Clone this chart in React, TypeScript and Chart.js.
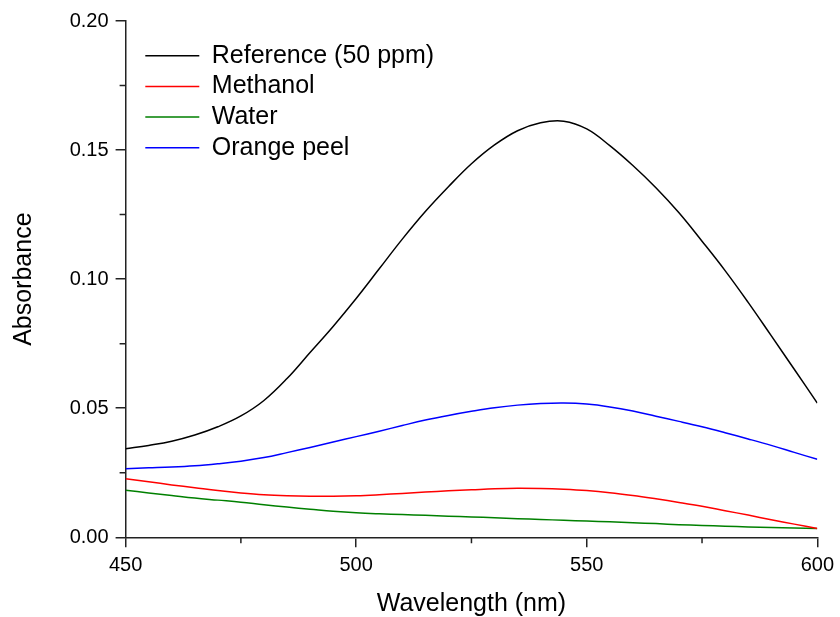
import React, { useEffect, useRef } from "react";
import { Chart, registerables } from "chart.js";

Chart.register(...registerables);

const wavelengths = [
  450, 455, 460, 465, 470, 475, 480, 485, 490, 495, 500, 505, 510, 515, 520, 525,
  530, 535, 540, 545, 550, 555, 560, 565, 570, 575, 580, 585, 590, 595, 600,
];

const reference50 = [
  0.0343, 0.0356, 0.0372, 0.0396, 0.0428, 0.047, 0.053, 0.0615, 0.0716, 0.0817,
  0.0925, 0.104, 0.1155, 0.1262, 0.1358, 0.1447, 0.152, 0.1575, 0.1606, 0.1612,
  0.1582, 0.1517, 0.144, 0.1354, 0.1257, 0.1147, 0.1033, 0.091, 0.0781, 0.0651, 0.052,
];

const methanol = [
  0.0227, 0.0215, 0.0203, 0.0192, 0.0181, 0.0172, 0.0165, 0.0161, 0.0159, 0.0159,
  0.0161, 0.0165, 0.017, 0.0175, 0.018, 0.0184, 0.0188, 0.019, 0.0189, 0.0186,
  0.0181, 0.0173, 0.0162, 0.0149, 0.0135, 0.012, 0.0103, 0.0086, 0.0068, 0.0051, 0.0034,
];

const water = [
  0.0182, 0.0172, 0.0162, 0.0152, 0.0144, 0.0136, 0.0126, 0.0117, 0.0109, 0.0101,
  0.0095, 0.0091, 0.0088, 0.0085, 0.0082, 0.0079, 0.0076, 0.0072, 0.0069, 0.0066,
  0.0063, 0.006, 0.0056, 0.0053, 0.0049, 0.0046, 0.0043, 0.004, 0.0038, 0.0036, 0.0034,
];

const orangePeel = [
  0.0266, 0.0269, 0.0272, 0.0277, 0.0285, 0.0295, 0.0309, 0.0328, 0.0348, 0.0369,
  0.039, 0.0411, 0.0433, 0.0454, 0.0472, 0.0488, 0.0502, 0.0512, 0.0518, 0.052,
  0.0516, 0.0505, 0.0489, 0.0469, 0.0449, 0.0428, 0.0405, 0.0381, 0.0356, 0.0329, 0.0302,
];

const seriesLabels = ["Reference (50 ppm)", "Methanol", "Water", "Orange peel"];
const seriesColors = ["#000000", "#ff0000", "#008000", "#0000ff"];
const yMinorTicks = [0.025, 0.075, 0.125, 0.175];
const xMinorTicks = [475, 525, 575];

const FONT = "'Liberation Sans', Arial, sans-serif";
const AXIS_COLOR = "#222";

const minorTicksPlugin = {
  id: "minorTicks",
  afterDraw(chart: any) {
    const { ctx, scales } = chart;
    const xs = scales.x;
    const ys = scales.y;
    ctx.save();
    ctx.strokeStyle = AXIS_COLOR;
    ctx.lineWidth = 1.5;
    ctx.beginPath();
    for (const v of yMinorTicks) {
      const py = ys.getPixelForValue(v);
      ctx.moveTo(xs.left - 6, py);
      ctx.lineTo(xs.left, py);
    }
    for (const v of xMinorTicks) {
      const px = xs.getPixelForValue(v);
      ctx.moveTo(px, ys.bottom);
      ctx.lineTo(px, ys.bottom + 6);
    }
    ctx.stroke();
    ctx.restore();
  },
};

const legendShiftPlugin = {
  id: "legendShift",
  afterUpdate(chart: any) {
    const lg = chart.legend;
    if (!lg) return;
    const dx = 14;
    const dy = 37.5;
    lg.left += dx;
    lg.right += dx;
    lg.top += dy;
    lg.bottom += dy;
    if (lg.legendHitBoxes) {
      for (const hb of lg.legendHitBoxes) {
        hb.left += dx;
        hb.top += dy;
      }
    }
  },
};

export default function App() {
  const canvasRef = useRef<HTMLCanvasElement | null>(null);

  useEffect(() => {
    if (!canvasRef.current) return;
    const seriesData = [reference50, methanol, water, orangePeel];
    const chart = new Chart(canvasRef.current, {
      type: "line",
      data: {
        datasets: seriesData.map((vals, i) => ({
          label: seriesLabels[i],
          data: wavelengths.map((w, j) => ({ x: w, y: vals[j] })),
          borderColor: seriesColors[i],
          backgroundColor: seriesColors[i],
          borderWidth: 1.5,
          pointRadius: 0,
          tension: 0.4,
          fill: false,
        })),
      },
      options: {
        animation: false,
        responsive: false,
        events: [],
        layout: { padding: { left: 0, top: 21, right: 16.7, bottom: 0 } },
        plugins: {
          legend: {
            position: "chartArea" as any,
            align: "start",
            labels: {
              boxWidth: 54,
              boxHeight: 0,
              padding: 5.7,
              color: "#000",
              font: { family: FONT, size: 25 },
            },
          },
          tooltip: { enabled: false },
        },
        scales: {
          x: {
            type: "linear",
            min: 450,
            max: 600,
            afterFit: (s: any) => {
              s.height = 79.7;
            },
            border: { display: true, color: AXIS_COLOR, width: 1.5 },
            grid: {
              drawOnChartArea: false,
              drawTicks: true,
              tickLength: 10,
              color: AXIS_COLOR,
              lineWidth: 1.5,
            },
            ticks: {
              stepSize: 50,
              padding: 6,
              color: "#000",
              maxRotation: 0,
              font: { family: FONT, size: 20 },
              callback: (v: any) => String(v),
            },
            title: {
              display: true,
              text: "Wavelength (nm)",
              color: "#000",
              font: { family: FONT, size: 25, lineHeight: 1 },
              padding: { top: 0, bottom: 0 },
            },
          },
          y: {
            type: "linear",
            min: 0,
            max: 0.2,
            afterFit: (s: any) => {
              s.width = 125.6;
            },
            border: { display: true, color: AXIS_COLOR, width: 1.5 },
            grid: {
              drawOnChartArea: false,
              drawTicks: true,
              tickLength: 10,
              color: AXIS_COLOR,
              lineWidth: 1.5,
            },
            ticks: {
              stepSize: 0.05,
              padding: 7,
              color: "#000",
              font: { family: FONT, size: 20 },
              callback: (v: any) => Number(v).toFixed(2),
            },
            title: {
              display: true,
              text: "Absorbance",
              color: "#000",
              font: { family: FONT, size: 25, lineHeight: 1 },
              padding: { top: 12, bottom: 0 },
            },
          },
        },
      },
      plugins: [minorTicksPlugin, legendShiftPlugin],
    });
    return () => chart.destroy();
  }, []);

  return (
    <div style={{ position: "fixed", left: 0, top: 0, width: 840, height: 617, background: "#fff" }}>
      <canvas ref={canvasRef} width={840} height={617} style={{ display: "block" }} />
    </div>
  );
}
